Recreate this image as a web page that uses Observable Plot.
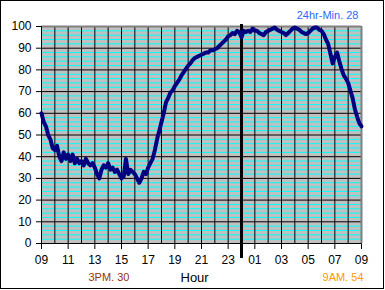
<!DOCTYPE html>
<html><head><meta charset="utf-8">
<script src="https://cdn.jsdelivr.net/npm/d3@7"></script>
<script src="https://cdn.jsdelivr.net/npm/@observablehq/plot@0.6"></script>
<style>
html,body{margin:0;padding:0;background:#fff;}
#wrap{position:relative;width:385px;height:290px;overflow:hidden;}
#border{position:absolute;left:0;top:0;width:384px;height:289px;box-sizing:border-box;border:1px solid #000;pointer-events:none;}
</style></head><body>
<div id="wrap"><div id="chart"></div><div id="border"></div></div>
<script>
// x tick positions (hours after 09:00) and their labels
const tickHours = [0, 2, 4, 6, 8, 10, 12, 14, 16, 18, 20, 22, 24];
const tickLabels = ["09","11","13","15","17","19","21","23","01","03","05","07","09"];
const yTicks = [0, 10, 20, 30, 40, 50, 60, 70, 80, 90, 100];
const midnightHour = [15];
// readings every 10 minutes, starting 09:00
const stepMinutes = 10;
const values = [
  60, 56, 54, 50, 48, 44, 43, 45, 40, 38, 42, 39,
  41, 38, 41, 37, 39, 37, 38, 36, 39, 37, 36, 37,
  35, 32, 30, 34, 36, 35, 37, 34, 35, 33, 34, 32,
  30, 31, 39, 32, 34, 33, 32, 30, 28, 30, 33, 32,
  35, 37, 39, 43, 48, 52, 56, 60, 65, 67, 69.5, 70.5,
  72.5, 74, 75.5, 77.5, 79, 80.5, 82, 83, 84.5, 85.5, 86, 86.5,
  87, 87.5, 88, 88, 89, 89, 89.5, 90, 91, 92, 93, 94,
  95.5, 96, 97, 96.5, 98, 97.5, 95, 98, 97.5, 98, 97.5, 99,
  98, 98, 97, 96.5, 96, 97.5, 98, 98.5, 99, 99.5, 98.5, 98,
  97.5, 97, 96, 97, 98, 99, 99.5, 99, 98.5, 97.5, 97, 96.5,
  97, 98, 99, 99.5, 99.5, 98.5, 98, 96.5, 94, 92, 87.5, 83,
  86, 88, 84, 80.5, 77.5, 76, 74, 70.5, 67, 62, 58.5, 55.5,
  54
];
const labelMin24 = "24hr-Min. 28";
const labelPM = "3PM. 30";
const labelAM = "9AM. 54";
const labelX = "Hour";

const data = values.map((v, i) => ({h: i * stepMinutes / 60, v}));
const minorY = d3.range(2, 100, 2).filter(v => v % 10 !== 0);
const majorY = d3.range(10, 100, 10);
const hourLines = d3.range(1, 24);

const font = "Arial, 'Liberation Sans', sans-serif";
const chart = Plot.plot({
  width: 385, height: 290,
  marginLeft: 41, marginRight: 24, marginTop: 26, marginBottom: 47,
  style: {fontFamily: font, fontSize: "12px", background: "transparent", color: "#000", overflow: "visible"},
  x: {domain: [0, 24], ticks: tickHours, tickFormat: d => tickLabels[tickHours.indexOf(d)], tickSize: 6, tickPadding: 6, label: null},
  y: {domain: [0, 100], ticks: yTicks, tickSize: 5, tickPadding: 5, label: null},
  marks: [
    Plot.frame({fill: "#c0c0c0", stroke: null}),
    Plot.ruleY(minorY, {stroke: "#00ffff", strokeOpacity: 1}),
    Plot.ruleY(majorY, {stroke: "#000", strokeOpacity: 1}),
    Plot.ruleX(hourLines, {stroke: "#000", strokeOpacity: 1}),
    Plot.ruleY([100], {stroke: "#808080", strokeWidth: 2}),
    Plot.ruleX([24], {stroke: "#808080", strokeWidth: 2}),
    Plot.ruleX(midnightHour, {stroke: "#000", strokeWidth: 3, insetTop: -2, insetBottom: -15}),
    Plot.line(data, {x: "h", y: "v", stroke: "#000080", strokeWidth: 4, strokeLinejoin: "round"}),
    Plot.ruleY([0], {stroke: "#000"}),
    Plot.ruleX([0], {stroke: "#000"}),
    Plot.text([labelMin24], {text: d => d, frameAnchor: "top-right", textAnchor: "end", lineAnchor: "bottom", dx: -3, dy: -8, fill: "#3366ff", fontSize: 11}),
    Plot.text([labelPM], {text: d => d, frameAnchor: "bottom-left", textAnchor: "start", lineAnchor: "bottom", dx: 47, dy: 37, fill: "#993300", fontSize: 11}),
    Plot.text([labelX], {text: d => d, frameAnchor: "bottom-left", textAnchor: "start", lineAnchor: "bottom", dx: 139, dy: 38, fill: "#000", fontSize: 13}),
    Plot.text([labelAM], {text: d => d, frameAnchor: "bottom-right", textAnchor: "end", lineAnchor: "bottom", dx: 2, dy: 37, fill: "#ff9900", fontSize: 11})
  ]
});
document.getElementById("chart").appendChild(chart);
</script>
</body></html>
